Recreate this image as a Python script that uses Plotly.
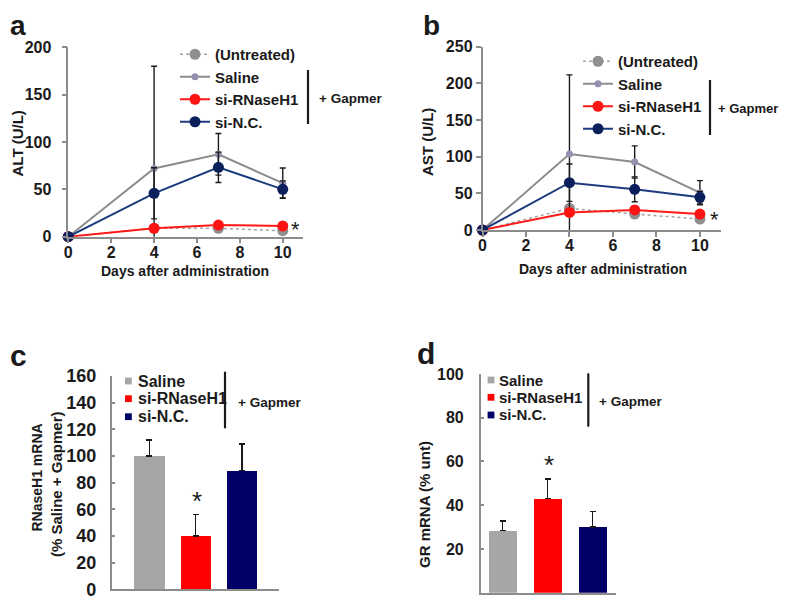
import plotly.graph_objects as go

# ---------------- data ----------------
days = [0, 4, 7, 10]
line_series = ["(Untreated)", "Saline", "si-RNaseH1", "si-N.C."]

alt_untreated = [0, 9.0, 8.8, 6.3]
alt_saline = [0, 72.0, 87.0, 56.5]
alt_sirnaseh1 = [0, 8.8, 12.3, 11.3]
alt_sinc = [0, 45.8, 73.3, 50.0]
alt_saline_err = [0, 108.0, 22.0, 16.0]
alt_sirnaseh1_err = [0, 4.0, 3.0, 2.0]
alt_sinc_err = [0, 27.0, 16.0, 9.0]

ast_untreated = [0, 29.5, 21.8, 15.0]
ast_saline = [0, 103.6, 92.7, 50.9]
ast_sirnaseh1 = [0, 24.0, 27.3, 21.8]
ast_sinc = [0, 64.5, 55.5, 44.6]
ast_saline_err = [0, 108.0, 22.0, 16.4]
ast_sirnaseh1_err = [0, 5.0, 3.0, 2.0]
ast_sinc_err = [0, 25.5, 17.0, 8.0]

bar_groups = ["Saline", "si-RNaseH1", "si-N.C."]
rnaseh1_mrna = [100, 40, 89]
rnaseh1_err = [12, 16, 20]
gr_mrna = [28.4, 43, 30]
gr_err = [4.4, 9, 7]

x_ticks = [0, 2, 4, 6, 8, 10]
alt_ticks = [0, 50, 100, 150, 200]
ast_ticks = [0, 50, 100, 150, 200, 250]
rn_ticks = [0, 20, 40, 60, 80, 100, 120, 140, 160]
gr_ticks = [0, 20, 40, 60, 80, 100]

# ---------------- style ----------------
OFF = 8                      # page offset of the plot div
W, H = 787 - OFF, 601 - OFF
FONT = "Liberation Sans, Arial, sans-serif"
TXT = "#1a1a1a"
AXC = "#8c8c8c"
ERR = "#1a1a1a"
line_colors = {"(Untreated)": "#a3a3a3", "Saline": "#8c8c8c",
               "si-RNaseH1": "#ff1a1a", "si-N.C.": "#1c3b7d"}
marker_colors = {"(Untreated)": "#8f8f8f", "Saline": "#958fb0",
                 "si-RNaseH1": "#ff1414", "si-N.C.": "#0b1f5c"}
bar_colors = ["#a6a6a6", "#ff0000", "#000066"]


def px(x):
    return (x - OFF) / W


def py(y):
    return 1 - (y - OFF) / H


fig = go.Figure()


def add_lines(xa, ya, legend, series_vals, series_errs):
    for name, vals, err in zip(line_series, series_vals, series_errs):
        is_unt = name == "(Untreated)"
        is_sal = name == "Saline"
        tr = dict(
            x=days, y=vals, name=name, mode="lines+markers",
            xaxis=xa, yaxis=ya, legend=legend,
            line=dict(color=line_colors[name], width=1.5 if is_unt else 2,
                      dash="dot" if is_unt else "solid"),
            marker=dict(color=marker_colors[name], size=7 if is_sal else 11,
                        line=dict(width=0)),
            cliponaxis=False,
        )
        if err is not None:
            tr["error_y"] = dict(type="data", array=err, color=ERR,
                                 thickness=1.4, width=3)
        fig.add_trace(go.Scatter(**tr))


add_lines("x", "y", "legend",
          [alt_untreated, alt_saline, alt_sirnaseh1, alt_sinc],
          [None, alt_saline_err, alt_sirnaseh1_err, alt_sinc_err])
add_lines("x2", "y2", "legend2",
          [ast_untreated, ast_saline, ast_sirnaseh1, ast_sinc],
          [None, ast_saline_err, ast_sirnaseh1_err, ast_sinc_err])

fig.add_trace(go.Bar(x=bar_groups, y=rnaseh1_mrna, xaxis="x3", yaxis="y3",
                     marker=dict(color=bar_colors, line=dict(width=0)),
                     width=0.66, showlegend=False,
                     error_y=dict(type="data", array=rnaseh1_err,
                                  arrayminus=[0, 0, 0], symmetric=False,
                                  color=ERR, thickness=1.4, width=3)))
fig.add_trace(go.Bar(x=bar_groups, y=gr_mrna, xaxis="x4", yaxis="y4",
                     marker=dict(color=bar_colors, line=dict(width=0)),
                     width=0.64, showlegend=False,
                     error_y=dict(type="data", array=gr_err,
                                  arrayminus=[0, 0, 0], symmetric=False,
                                  color=ERR, thickness=1.4, width=3)))


def axis(domain, rng, size=16, **kw):
    d = dict(domain=domain, range=rng, showgrid=False, zeroline=False,
             showline=True, linecolor=AXC, linewidth=1.5,
             tickcolor=AXC, tickwidth=1.5, ticklen=5, ticks="outside",
             tickfont=dict(family=FONT, size=size, color=TXT, weight="bold"),
             fixedrange=True, automargin=False)
    d.update(kw)
    return d


layout = dict(
    width=W, height=H, margin=dict(l=0, r=0, t=0, b=0, autoexpand=False),
    paper_bgcolor="white", plot_bgcolor="white",
    font=dict(family=FONT, color=TXT),
    bargap=0,
    xaxis=axis([px(68.3), px(302.7)], [0, 10.93], tickvals=x_ticks,
               anchor="y", ticklabelstandoff=-5),
    yaxis=axis([py(236.7), py(47.3)], [0, 200], tickvals=alt_ticks,
               anchor="x", ticklabelstandoff=7),
    xaxis2=axis([px(482.5), px(721)], [0, 10.97], tickvals=x_ticks,
                anchor="y2", ticklabelstandoff=-5),
    yaxis2=axis([py(230), py(46.7)], [0, 250], tickvals=ast_ticks,
                anchor="x2", ticklabelstandoff=0),
    xaxis3=axis([px(111.7), px(279.3)], [-0.81, 2.81], type="category",
                showticklabels=False, ticks="", anchor="y3"),
    yaxis3=axis([py(589.3), py(376)], [0, 160], size=18, tickvals=rn_ticks,
                anchor="x3", ticks="inside", ticklen=4, ticklabelstandoff=10),
    xaxis4=axis([px(480.7), px(616)], [-0.49, 2.52], type="category",
                showticklabels=False, ticks="", anchor="y4"),
    yaxis4=axis([py(592.7), py(374)], [0, 100], tickvals=gr_ticks,
                anchor="x4", ticks="inside", ticklen=4, ticklabelstandoff=12),
    legend=dict(x=px(175), y=py(38), xanchor="left", yanchor="top",
                bgcolor="rgba(0,0,0,0)", tracegroupgap=0, itemwidth=30,
                font=dict(family=FONT, size=15, color=TXT, weight="bold")),
    legend2=dict(x=px(578), y=py(45), xanchor="left", yanchor="top",
                 bgcolor="rgba(0,0,0,0)", tracegroupgap=0, itemwidth=30,
                 font=dict(family=FONT, size=15, color=TXT, weight="bold")),
)
fig.update_layout(**layout)

ann = []
shapes = []


def text(x, y, s, size=15, angle=0, xanchor="center", yanchor="middle",
         weight="bold", xref="paper", yref="paper", xshift=0, yshift=0):
    ann.append(dict(x=x, y=y, xref=xref, yref=yref, text=s, showarrow=False,
                    textangle=angle, xanchor=xanchor, yanchor=yanchor,
                    xshift=xshift, yshift=yshift,
                    font=dict(family=FONT, size=size, color=TXT, weight=weight)))


# panel letters
text(px(8), 1, "a", size=28, xanchor="left", yanchor="top")
text(px(421), 1, "b", size=28, xanchor="left", yanchor="top")
text(px(8), py(355.5), "c", size=30, xanchor="left")
text(px(415), py(353), "d", size=30, xanchor="left")

# axis titles
text(px(17.5), py(144), "ALT (U/L)", angle=-90)
text(px(427), py(142), "AST (U/L)", angle=-90)
text(px(185), py(271), "Days after administration", size=14)
text(px(603), py(269), "Days after administration", size=14)
text(px(36), py(477.5), "RNaseH1 mRNA", size=14, angle=-90)
text(px(56), py(485), "(% Saline + Gapmer)", size=15, angle=-90)
text(px(424), py(505), "GR mRNA (% unt)", size=15, angle=-90)

# "+ Gapmer" brackets
for (bx, by0, by1, gx, gy, gs) in [(308, 70, 124, 317, 98.7, 13.5),
                                   (710, 80, 135, 716, 108.7, 13),
                                   (225, 371.7, 428.3, 235.7, 402.7, 13.5),
                                   (588.3, 373.3, 426.7, 597.3, 401.7, 13.5)]:
    shapes.append(dict(type="line", xref="paper", yref="paper",
                       x0=px(bx), x1=px(bx), y0=py(by0), y1=py(by1),
                       line=dict(color=TXT, width=2.2)))
    text(px(gx), py(gy), "+ Gapmer", size=gs, xanchor="left")

# bar legends (c, d)
for (sx, tx, ys, fs) in [(128.4, 136, [381, 398.7, 416.7], 16),
                         (491, 497.3, [380, 397.3, 415], 15)]:
    for name, col, yy in zip(bar_groups, bar_colors, ys):
        shapes.append(dict(type="rect", xref="paper", yref="paper",
                           x0=px(sx - 3.4), x1=px(sx + 3.4),
                           y0=py(yy + 3.4), y1=py(yy - 3.4),
                           fillcolor=col, line=dict(width=0)))
        text(px(tx), py(yy), name, size=fs, xanchor="left")

# significance asterisks
text(days[-1], alt_sirnaseh1[-1], "*", size=22, weight="normal",
     xref="x", yref="y", xshift=13, yshift=-3)
text(days[-1], ast_sirnaseh1[-1], "*", size=22, weight="normal",
     xref="x2", yref="y2", xshift=15, yshift=-5)
text(bar_groups[1], rnaseh1_mrna[1] + rnaseh1_err[1], "*", size=26,
     weight="normal", xref="x3", yref="y3", xshift=1, yshift=14)
text(bar_groups[1], gr_mrna[1] + gr_err[1], "*", size=26,
     weight="normal", xref="x4", yref="y4", xshift=1, yshift=14)

fig.update_layout(annotations=ann, shapes=shapes)
fig.write_html("out.html")
